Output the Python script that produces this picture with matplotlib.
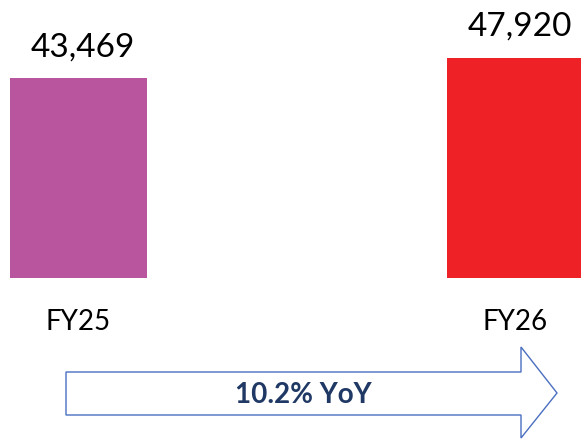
import matplotlib
matplotlib.use("Agg")
import matplotlib.pyplot as plt
from matplotlib.patches import Polygon

plt.rcParams['font.family'] = ['Lato', 'DejaVu Sans']

categories = ["FY25", "FY26"]
values = [43469, 47920]
colors = ["#B8559E", "#EE2226"]

W, H = 581, 440
fig = plt.figure(figsize=(W / 100, H / 100), dpi=100)

# main bar axes (baseline at 278 px from top)
base_px = 278
ax = fig.add_axes([0, (H - base_px) / H, 1, base_px / H])
ax.set_facecolor("none")
pos = [0, 1]
ax.bar(pos, values, width=0.3135, color=colors)
ax.set_xlim(-78.5 / 437, (581 - 78.5) / 437)
ax.set_ylim(0, base_px / 200 * values[0])
ax.axis("off")

for x, v in zip(pos, values):
    ax.annotate(f"{v:,}", (x, v), xytext=(4, 21.5), textcoords="offset pixels",
                ha="center", va="baseline", fontsize=24, color="#000000")

for x, c in zip(pos, categories):
    ax.annotate(c, (x, 0), xytext=(0, -52), textcoords="offset pixels",
                ha="center", va="baseline", fontsize=20, color="#000000",
                annotation_clip=False)

# overlay axes in pixel coordinates for the arrow
ax2 = fig.add_axes([0, 0, 1, 1])
ax2.set_xlim(0, W)
ax2.set_ylim(H, 0)
ax2.axis("off")
ax2.set_facecolor("none")
arrow_pts = [(66, 372), (521, 372), (521, 347), (557, 393),
             (521, 438), (521, 415), (66, 415)]
ax2.add_patch(Polygon(arrow_pts, closed=True, facecolor="white",
                      edgecolor="#4A6FC0", linewidth=1.0))
yoy = (values[1] / values[0] - 1) * 100
ax2.text(303, 395, f"{yoy:.1f}% YoY", ha="center", va="center",
         fontsize=20, fontweight="bold", color="#1F3864")

fig.savefig("out.png", dpi=100)
